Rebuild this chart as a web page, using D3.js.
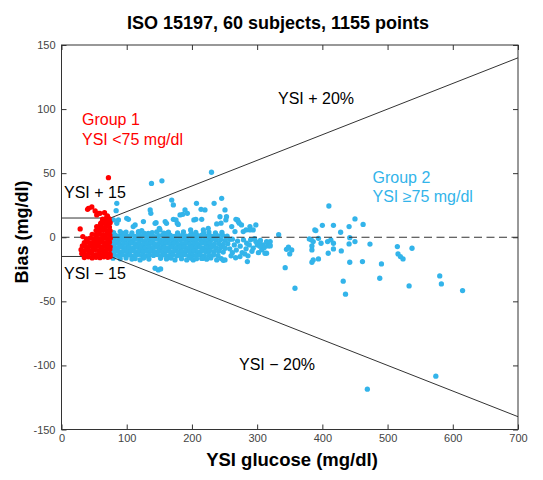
<!DOCTYPE html>
<html><head><meta charset="utf-8">
<script src="https://cdn.jsdelivr.net/npm/d3@7/dist/d3.min.js"></script>
<style>
html,body{margin:0;padding:0;background:#fff;}
svg{display:block;font-family:"Liberation Sans",Arial,Helvetica,sans-serif;}
</style></head>
<body>
<svg id="chart" width="543" height="480"></svg>
<script>
// ---------- data ----------
const xTicks = [0,100,200,300,400,500,600,700];
const yTicks = [-150,-100,-50,0,50,100,150];
const upperLimit = [[0,15],[75,15],[700,140]];
const lowerLimit = [[0,-15],[75,-15],[700,-140]];
const zeroLine = [[0,0],[700,0]];

// Group 1: YSI < 75 mg/dl  [YSI, bias]
const group1 = [
[72,46.5],[28.6,6.5],[40,21.8],[46.5,23.6],[51.6,20.5],[54,17.4],[59,18.7],[66,19.2],[70.4,16.6],[62,11.7],[54,8.3],[32.7,0.5],[41.4,22.6],[56.7,18.7],[69.5,16],[73,13],
[35,-15.8],[41,-15.2],[47,-16.1],[53,-15.6],[59,-15.9],[65,-15.3],[71,-15.7],[74.5,-15.1],
[31,-12.8],[36,-13.4],[42,-12.6],[47.5,-13.1],[53,-13.6],[58.5,-12.9],[64,-13.2],[69.5,-12.7],[74.5,-13.3],
[30,-9.7],[35.5,-10.4],[41,-9.9],[46.5,-10.2],[52,-9.6],[57.5,-10.5],[63,-9.8],[68.5,-10.1],[74,-9.6],
[32,-6.8],[38,-7.3],[43.5,-6.6],[49,-7.2],[54.5,-6.9],[60,-7.4],[65.5,-6.7],[71,-7.1],[74.6,-7.5],
[35,-4.2],[40.5,-3.8],[46,-4.4],[51.5,-3.9],[57,-4.1],[62.5,-3.6],[68,-4.3],[73.5,-3.9],
[38,-1.2],[44,-0.7],[49.5,-1.4],[55,-0.9],[60.5,-1.1],[66,-0.6],[71.5,-1.3],[74.8,-0.8],
[47,2.3],[52.5,1.8],[58,2.4],[63.5,1.9],[69,2.2],[74.2,1.7],
[53,5.2],[58.5,4.8],[64,5.4],[69.5,4.9],[74.5,5.1],
[57,8.1],[62.5,7.7],[68,8.4],[73.5,7.9],
[60,10.8],[65.5,11.3],[71,10.9],[74.6,11.4],
[63,14.2],[68,13.8],[73,14.5]
];

// Group 2: YSI >= 75 mg/dl, dense core
const group2Core = [
[80,3.6],[92,3.1],[99,4.0],[108,3.3],[118,3.8],[127,3.0],[139,3.5],[146,4.2],[157,3.2],[164,3.9],[178,3.4],[187,4.1],[199,3.0],[206,3.7],[218,3.2],[226,4.0],[236,3.3],[246,3.8],
[77,0.8],[83,1.4],[89,0.6],[95,1.2],[101,0.9],[107,1.5],[113,0.7],[119,1.1],[125,1.6],[131,0.8],[137,1.3],[143,0.5],[149,1.2],[155,1.7],[161,0.9],[167,1.4],[173,0.6],[179,1.1],[185,1.5],[191,0.8],[197,1.3],[203,0.7],[209,1.2],[215,1.6],[221,0.9],[227,1.4],[233,0.6],[240,1.1],[247,1.5],[254,0.8],
[76,-2.2],[80,-1.8],[86,-2.4],[92,-1.7],[98,-2.3],[104,-1.9],[110,-2.5],[116,-1.6],[122,-2.1],[128,-2.6],[134,-1.8],[140,-2.2],[146,-1.5],[152,-2.4],[158,-1.9],[164,-2.3],[170,-1.7],[176,-2.5],[182,-2.0],[188,-1.6],[194,-2.4],[200,-1.9],[206,-2.2],[212,-1.7],[218,-2.5],[224,-2.0],[230,-1.8],[237,-2.3],[244,-1.9],[251,-2.4],[258,-1.6],
[77,-5.1],[83,-4.7],[89,-5.4],[95,-4.9],[101,-5.3],[107,-4.6],[113,-5.2],[119,-4.8],[125,-5.5],[131,-5.0],[137,-4.7],[143,-5.3],[149,-4.9],[155,-5.4],[161,-4.6],[167,-5.2],[173,-4.8],[179,-5.5],[185,-5.0],[191,-4.7],[197,-5.3],[203,-4.9],[209,-5.4],[215,-4.6],[221,-5.1],[227,-4.8],[234,-5.3],[241,-4.9],[248,-5.5],[255,-5.0],
[76,-8.2],[80,-7.8],[86,-8.4],[92,-7.7],[98,-8.3],[104,-7.9],[110,-8.5],[116,-7.6],[122,-8.1],[128,-8.6],[134,-7.8],[140,-8.2],[146,-7.5],[152,-8.4],[158,-7.9],[164,-8.3],[170,-7.7],[176,-8.5],[182,-8.0],[188,-7.6],[194,-8.4],[200,-7.9],[206,-8.2],[212,-7.7],[218,-8.5],[224,-8.0],[230,-7.8],[237,-8.3],[244,-7.9],[251,-8.6],
[77,-11.1],[83,-10.7],[89,-11.4],[95,-10.9],[101,-11.3],[107,-10.6],[113,-11.2],[119,-10.8],[125,-11.5],[131,-11.0],[137,-10.7],[143,-11.3],[149,-10.9],[155,-11.4],[161,-10.6],[167,-11.2],[173,-10.8],[179,-11.5],[185,-11.0],[191,-10.7],[197,-11.3],[203,-10.9],[209,-11.4],[215,-10.6],[221,-11.1],[227,-10.8],[234,-11.3],[241,-10.9],[248,-11.6],
[76,-14.2],[81,-13.8],[87,-14.4],[93,-13.7],[99,-14.3],[105,-13.9],[111,-14.5],[117,-13.6],[123,-14.1],[129,-14.6],[135,-13.8],[141,-14.2],[147,-13.5],[153,-14.4],[159,-13.9],[165,-14.3],[171,-13.7],[177,-14.5],[183,-14.0],[189,-13.6],[195,-14.4],[201,-13.9],[207,-14.2],[213,-13.7],[219,-14.5],[226,-14.0],[233,-13.8],[240,-14.3],
[79,-16.3],[90,-16.8],[99,-16.1],[113,-16.6],[126,-16.2],[134,-17.0],[152,-16.4],[161,-16.9],[168,-16.2],[184,-16.7],[199,-16.3],[215,-16.5],[229,-16.1],[245,-16.6]
];

// Group 2: scattered points
const group2Scatter = [
[84.8,26.5],[83.8,20.7],[87.3,13.5],[79.6,13.5],[84.8,10.9],[100,14.8],[102.6,14],[110,8.3],[112.9,9.6],[123,5.2],[125.6,12.2],[136,21.3],[137,18.7],[145,11.4],[143.5,10.9],[150,7],[151,5.7],[133,3.1],[95,3.1],[90,4.4],[118,4.4],[161,3.1],
[138,42],[154,44],[230,50.7],
[169,29],[171.5,25.2],[175.6,13.5],[177.6,10.9],[161,10.9],[159,12.2],[171.5,14],[179,10],[181.8,17.4],[186,17.9],[189.4,21.3],[193,18.7],[207,26.5],[203,13.5],[206,14],[214,21.8],[215,14],[220,21.3],[234,26.5],[245.6,30.4],[217.5,5.7],[225,7],[198,5.7],[238,10.4],[244.6,11],[243,16],[250.7,21.3],[252,13.5],[253,16],[261,8.3],[267.5,14],[270,13.5],[271,12.2],[272.6,11],[276,9.6],[266,4.4],[278.7,4.4],[283,5.7],[289,8.3],[289,5.7],[294,5.7],[298,9.6],
[108,-17],[120.5,-17.7],[143.5,-24.2],[148.5,-25.5],[152,-24.7],[174,-17.7],[192,-17.7],[202,-17.7],[207,-16.7],[217,-16.4],[222.6,-17.1],[238,-17.7],[248,-18],[250.7,-17.7],[273.7,-15.1],[281,-13],[285,-19],[294,-8.6],[300,-6],[314.5,-3.4],[319.6,-6],[298,-3.4],[290,-2],[284,-4.7],[307,-9.9],[309,-6],[315.5,-4.2],[314.5,-12.5],
[262,-1.5],[265,-6],[268,-10],[270,-3],[274,-7],[277,-12],[279,-2],[283,-9],[286,-14.5],[262,-12],[258,-9],[260,-14.5],[267,-16],[288,-6],[292,-11],[296,-1],[302,-12],[305,-2.5],[311,-8],
[304,-4],[304,-7],[312,-12.5],[317,-6.8],[320,-3.4],[320,-6.8],[333,2],[343,-23.7],[345,-9.4],[348,-7.8],[350,-13],[353,-9.9],[358,-39.8],
[380,-1.3],[383,-2],[384,-6.8],[384,-9.9],[384,-19.5],[386,-3.4],[386,-17.7],[388.5,5.7],[390,5.2],[394,-0.8],[394,-16.9],[398,-4.7],[400,9.3],[408,-3.4],[409,-12.5],[410,24.4],[413,-2],[417,9.3],[417,-4.7],[417,-9.1],[428,3.9],[429,-10.7],[432,-34.3],[435.5,-44.4],[441,8.3],[442,-0.3],[441,-5.2],[442,-19.5],[450,14.3],[450,-3.4],[462.5,10],[461.5,-19],[473,-5.3],
[469,-118.5],[490.6,-20.8],[488,-32],[515,-7.3],[516,-13],[519.7,-15.1],[523.7,-16.9],[537.5,-8.6],[533,-38],[574,-108.4],[580,-30.2],[582.5,-36.4],[615,-41.6]
];

// ---------- chart ----------
const svg = d3.select("#chart");
const x = d3.scaleLinear().domain([0,700]).range([61.5,518]);
const y = d3.scaleLinear().domain([-150,150]).range([429.5,45]);
const BLUE = "#33b4ea", RED = "#ff0000", INK = "#333";
const R = 2.65;
const fmt = d => String(d);

// axes (ticks inside, box)
const gx = svg.append("g").attr("transform",`translate(0,${y(-150)})`)
  .call(d3.axisBottom(x).tickValues(xTicks).tickSize(-5).tickSizeOuter(0).tickPadding(5).tickFormat(fmt));
const gxt = svg.append("g").attr("transform",`translate(0,${y(150)})`)
  .call(d3.axisTop(x).tickValues(xTicks).tickSize(-5).tickSizeOuter(0).tickFormat(""));
const gy = svg.append("g").attr("transform",`translate(${x(0)},0)`)
  .call(d3.axisLeft(y).tickValues(yTicks).tickSize(-5).tickSizeOuter(0).tickPadding(6).tickFormat(fmt));
const gyr = svg.append("g").attr("transform",`translate(${x(700)},0)`)
  .call(d3.axisRight(y).tickValues(yTicks).tickSize(-5).tickSizeOuter(0).tickFormat(""));
[gx,gxt,gy,gyr].forEach(g=>{
  g.select(".domain").remove();
  g.selectAll(".tick line").attr("stroke",INK);
  g.selectAll(".tick text").attr("fill","#444").style("font-size","11px")
   .style("font-family",'"Liberation Sans",Arial,sans-serif');
});
svg.append("rect").attr("x",x(0)).attr("y",y(150)).attr("width",x(700)-x(0)).attr("height",y(-150)-y(150))
  .attr("fill","none").attr("stroke",INK).attr("stroke-width",1);

// blue points
const pts = svg.append("g");
pts.selectAll("circle.g2").data(group2Core.concat(group2Scatter)).join("circle").attr("class","g2")
  .attr("cx",d=>x(d[0])).attr("cy",d=>y(d[1])).attr("r",R).attr("fill",BLUE);

// limit lines
const line = d3.line().x(d=>x(d[0])).y(d=>y(d[1]));
svg.append("path").attr("d",line(upperLimit)).attr("fill","none").attr("stroke",INK).attr("stroke-width",1);
svg.append("path").attr("d",line(lowerLimit)).attr("fill","none").attr("stroke",INK).attr("stroke-width",1);
svg.append("path").attr("d",line(zeroLine)).attr("fill","none").attr("stroke",INK).attr("stroke-width",1)
  .attr("stroke-dasharray","8,4.5");

// red points
svg.append("g").selectAll("circle").data(group1).join("circle")
  .attr("cx",d=>x(d[0])).attr("cy",d=>y(d[1])).attr("r",R).attr("fill",RED);

// annotations
const ann = (t,px,py,col) => svg.append("text").attr("x",px).attr("y",py).attr("fill",col)
  .style("font-size","16px").text(t);
ann("YSI + 20%",278,104,"#000");
ann("Group 1",82,125,RED);
ann("YSI <75 mg/dl",82,145,RED);
ann("YSI + 15",64,197.5,"#000");
ann("YSI \u2212 15",64,279,"#000");
ann("Group 2",372.5,182.7,BLUE);
ann("YSI \u226575 mg/dl",372.5,201.7,BLUE);
ann("YSI \u2212 20%",239,370,"#000");

// titles
svg.append("text").attr("x",278).attr("y",29).attr("text-anchor","middle")
  .style("font-size","18px").style("font-weight","bold").text("ISO 15197, 60 subjects, 1155 points");
svg.append("text").attr("x",292).attr("y",466).attr("text-anchor","middle")
  .style("font-size","18.5px").style("font-weight","bold").text("YSI glucose (mg/dl)");
svg.append("text").attr("transform","translate(28,232) rotate(-90)").attr("text-anchor","middle")
  .style("font-size","18px").style("font-weight","bold").text("Bias (mg/dl)");
</script>
</body></html>
